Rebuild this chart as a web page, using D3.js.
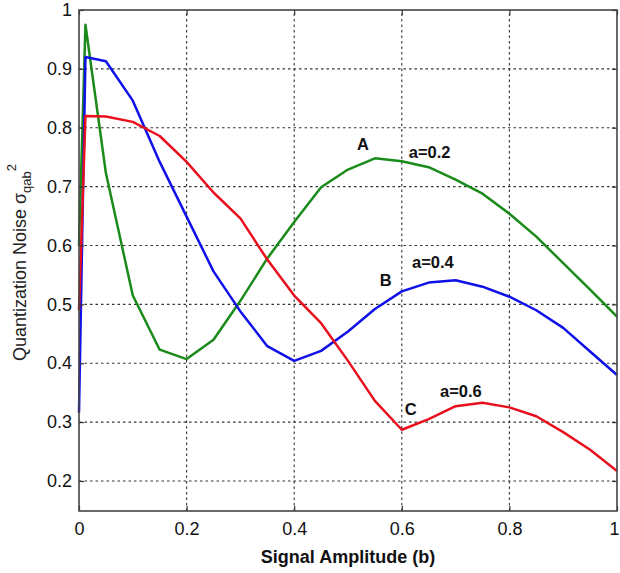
<!DOCTYPE html>
<html>
<head>
<meta charset="utf-8">
<script src="https://cdn.jsdelivr.net/npm/d3@7/dist/d3.min.js"></script>
<style>
  html, body { margin: 0; padding: 0; background: #fff; }
  svg { display: block; font-family: "Liberation Sans", Arial, sans-serif; }
</style>
</head>
<body>
<svg id="chart" width="620" height="573"></svg>
<script>
// Signal amplitude samples (b)
const amplitude = [0, 0.012, 0.05, 0.1, 0.15, 0.2, 0.25, 0.3, 0.35, 0.4, 0.45, 0.5,
                   0.55, 0.6, 0.65, 0.7, 0.75, 0.8, 0.85, 0.9, 0.95, 1.0];

// Quantization noise for each value of a
const noiseA02 = [0.60, 0.975, 0.723, 0.515, 0.423, 0.407, 0.44, 0.506, 0.578, 0.64, 0.699, 0.729,
                  0.748, 0.743, 0.733, 0.712, 0.688, 0.654, 0.615, 0.57, 0.525, 0.479];
const noiseA04 = [0.316, 0.92, 0.913, 0.846, 0.742, 0.649, 0.556, 0.488, 0.429, 0.404, 0.421, 0.454,
                  0.492, 0.522, 0.537, 0.541, 0.53, 0.513, 0.49, 0.46, 0.42, 0.38];
const noiseA06 = [0.49, 0.82, 0.819, 0.81, 0.786, 0.742, 0.69, 0.646, 0.576, 0.515, 0.468, 0.404,
                  0.336, 0.287, 0.305, 0.327, 0.333, 0.325, 0.31, 0.283, 0.253, 0.217];

const seriesNames = ["a=0.2", "a=0.4", "a=0.6"];
const seriesTags = ["A", "B", "C"];
const seriesColors = ["#1a8a1a", "#1010e8", "#e8101e"];

const xTicks = [0, 0.2, 0.4, 0.6, 0.8, 1];
const yTicks = [0.2, 0.3, 0.4, 0.5, 0.6, 0.7, 0.8, 0.9, 1];

// Annotation anchor points in data units (text baselines)
const tagPos = [[0.528, 0.762], [0.570, 0.531], [0.6165, 0.312]];
const namePos = [[0.613, 0.749], [0.619, 0.562], [0.671, 0.343]];

const svg = d3.select("#chart");
const margin = { left: 79, right: 3, top: 10, bottom: 62 };
const W = 620, H = 573;
const x = d3.scaleLinear().domain([0, 1]).range([margin.left, W - margin.right]);
const y = d3.scaleLinear().domain([0.149, 1]).range([H - margin.bottom, margin.top]);

const x0 = x.range()[0], x1 = x.range()[1];
const y0 = y.range()[0], y1 = y.range()[1];

// grid
const grid = svg.append("g").attr("stroke", "#333").attr("stroke-width", 1.1)
  .attr("stroke-dasharray", "2.5,3");
grid.selectAll("line.v").data(xTicks.filter(d => d > 0 && d < 1)).join("line")
  .attr("x1", d => x(d)).attr("x2", d => x(d)).attr("y1", y0).attr("y2", y1);
grid.selectAll("line.h").data(yTicks.filter(d => d < 1)).join("line")
  .attr("x1", x0).attr("x2", x1).attr("y1", d => y(d)).attr("y2", d => y(d));

// curves
const line = d3.line().x((d, i) => x(amplitude[i])).y(d => y(d));
[noiseA02, noiseA04, noiseA06].forEach((s, k) => {
  svg.append("path").datum(s).attr("d", line)
    .attr("fill", "none").attr("stroke", seriesColors[k])
    .attr("stroke-width", 2.5).attr("stroke-linejoin", "round");
});

// axes (ticks inward on all sides)
const tickFont = g => g.selectAll("text").attr("font-size", 18).attr("fill", "#111")
  .attr("font-family", "'Liberation Sans', Arial, sans-serif");
const axBottom = svg.append("g").attr("transform", `translate(0,${y0})`)
  .call(d3.axisBottom(x).tickValues(xTicks).tickFormat(d3.format("~g")).tickSizeInner(-5).tickSizeOuter(0).tickPadding(11));
const axLeft = svg.append("g").attr("transform", `translate(${x0},0)`)
  .call(d3.axisLeft(y).tickValues(yTicks).tickFormat(d3.format("~g")).tickSizeInner(-5).tickSizeOuter(0).tickPadding(7));
const axTop = svg.append("g").attr("transform", `translate(0,${y1})`)
  .call(d3.axisTop(x).tickValues(xTicks).tickFormat("").tickSizeInner(-5).tickSizeOuter(0));
const axRight = svg.append("g").attr("transform", `translate(${x1},0)`)
  .call(d3.axisRight(y).tickValues(yTicks).tickFormat("").tickSizeInner(-5).tickSizeOuter(0));
[axBottom, axLeft, axTop, axRight].forEach(g => {
  g.select(".domain").remove();
  g.selectAll(".tick line").attr("stroke", "#333").attr("stroke-width", 1.2);
  tickFont(g);
});
axBottom.selectAll("text").attr("dy", "0.71em");
// last label sits against the right edge of the page
axBottom.selectAll(".tick").filter(d => d === 1).select("text")
  .attr("text-anchor", "end").attr("x", 2);

// frame
svg.append("rect").attr("x", x0).attr("y", y1).attr("width", x1 - x0).attr("height", y0 - y1)
  .attr("fill", "none").attr("stroke", "#444").attr("stroke-width", 1.6);

// annotations
const ann = svg.append("g").attr("font-weight", "bold").attr("font-size", 16.5).attr("fill", "#111");
ann.selectAll("text.tag").data(tagPos).join("text")
  .attr("x", d => x(d[0])).attr("y", d => y(d[1])).attr("text-anchor", "middle")
  .text((d, i) => seriesTags[i]);
ann.selectAll("text.name").data(namePos).join("text")
  .attr("x", d => x(d[0])).attr("y", d => y(d[1])).attr("text-anchor", "start")
  .text((d, i) => seriesNames[i]);

// axis titles
svg.append("text").attr("x", (x0 + x1) / 2).attr("y", 563).attr("text-anchor", "middle")
  .attr("font-weight", "bold").attr("font-size", 18).attr("fill", "#111")
  .text("Signal Amplitude (b)");

const yt = svg.append("text").attr("transform", `translate(26,${(y0 + y1) / 2 + 2}) rotate(-90)`)
  .attr("text-anchor", "middle").attr("font-size", 18).attr("fill", "#222");
yt.append("tspan").text("Quantization Noise σ");
yt.append("tspan").attr("font-size", 13).attr("dy", 5).text("qab");
yt.append("tspan").attr("font-size", 13).attr("dy", -15).text("2");
</script>
</body>
</html>
